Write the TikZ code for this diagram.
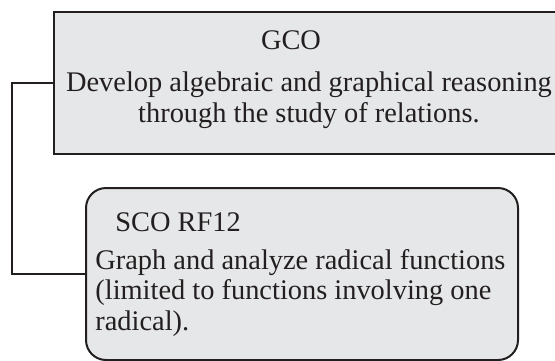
\documentclass[tikz,border=0pt]{standalone}
\usepackage{fontspec}
\setmainfont{Liberation Serif}
\usetikzlibrary{positioning, calc}
\definecolor{boxgray}{HTML}{E6E7E8}
\definecolor{inkblack}{HTML}{231F20}

\begin{document}
\begin{tikzpicture}[
    x=0.5pt, y=-0.5pt,
    % Node styles
    gcobox/.style={
        rectangle,
        draw=inkblack,
        line width=1pt,
        fill=boxgray,
        minimum width=262pt,
        minimum height=71pt,
        anchor=north west,
        inner sep=0pt
    },
    scobox/.style={
        rectangle,
        rounded corners=10pt,
        draw=inkblack,
        line width=1pt,
        fill=boxgray,
        minimum width=216pt,
        minimum height=86pt,
        anchor=north west,
        inner sep=0pt
    },
    heading/.style={
        font=\fontsize{14.2}{15.3}\selectfont,
        text=inkblack,
        inner sep=0pt
    },
    bodytext/.style={
        font=\fontsize{14.2}{15.3}\selectfont,
        text=inkblack,
        inner sep=0pt
    },
    link/.style={
        line width=1pt,
        inkblack
    }
]

\useasboundingbox (0,0) rectangle (555,360);

% --- Boxes ---
\node[gcobox] (gco) at (53,11) {};
\node[scobox] (sco) at (85,187) {};

% --- Connector ---
\draw[link] (gco.west) -- ++(-41,0) |- (sco.west);

% --- Texts ---
\node[bodytext, align=center] (gcotext) at (309,100) {Develop algebraic and graphical reasoning\\through the study of relations.};
\node[heading] (gcotitle) at (291,40) {GCO};

\node[heading, anchor=west] (scotitle) at (115,222) {SCO RF12};
\node[bodytext, align=left, anchor=west] (scotext) at (95,293) {Graph and analyze radical functions\\(limited to functions involving one\\radical).};

\end{tikzpicture}
\end{document}
